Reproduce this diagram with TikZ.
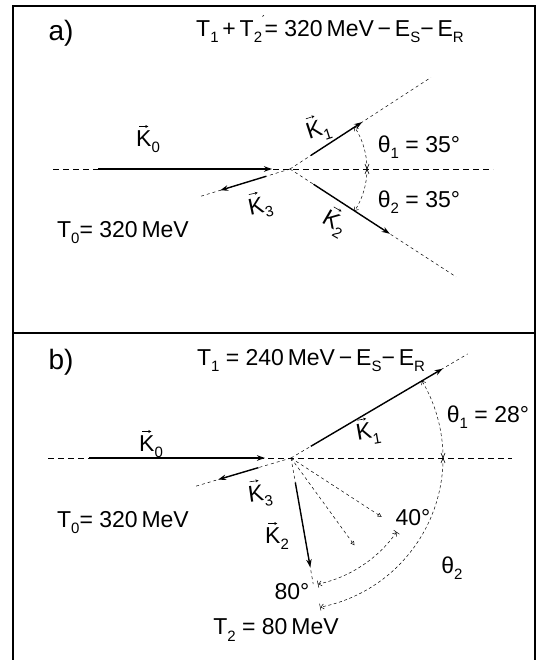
\documentclass[tikz,border=0pt]{standalone}
\usepackage{fontspec}
\setmainfont{Liberation Sans}
\newfontfamily\symf{DejaVu Sans}
\usetikzlibrary{arrows.meta,calc}
\newcommand\sbs[1]{\raisebox{-0.5ex}{\fontsize{15}{15}\selectfont #1}}
\newcommand\vK[1]{\leavevmode\vbox{\offinterlineskip\halign{\hfil##\hfil\cr\tikz[x=1pt,y=1pt,baseline=0pt]\draw[line width=0.6pt,-{Stealth[length=3pt,width=3pt]}](0,0)--(9,0);\cr\noalign{\kern3pt}K\cr}}\sbs{#1}}
\tikzset{
  frame/.style={line width=1.3pt},
  axisline/.style={dash pattern=on 6pt off 4pt, line width=0.6pt},
  ray/.style={dash pattern=on 3pt off 3pt, line width=0.5pt},
  vecarrow/.style={line width=1.4pt, -{Stealth[length=8pt,width=5.5pt]}},
  arcline/.style={dash pattern=on 3pt off 2.5pt, line width=0.5pt},
  barb/.tip={Straight Barb[length=3pt,width=5pt]},
  lab/.style={inner sep=0pt},
}
\begin{document}
\begin{tikzpicture}[x=1pt,y=1pt,font=\fontsize{23}{25}\selectfont]
\useasboundingbox (0,0) rectangle (537,660);
% frame
\coordinate (fbl) at (13,0);
\coordinate (ftl) at (13,654);
\coordinate (ftr) at (535,654);
\coordinate (fbr) at (535,0);
\coordinate (dl) at (13,327);
\coordinate (dr) at (535,327);
\draw[frame] (fbl) -- (ftl) -- (ftr) -- (fbr);
\draw[frame] (dl) -- (dr);

% ================= panel a
\coordinate (A) at (290,491);
\coordinate (aL) at (53,491);
\coordinate (aR) at (493,491);
\draw[axisline] (aL) -- (aR);
\coordinate (a0s) at (98,491);
\coordinate (a0e) at (272,491);
\draw[vecarrow] (a0s) -- (a0e);
% K1
\draw[ray] (A) -- ($(A)+(33:168)$) coordinate (a1r);
\draw[vecarrow] ($(A)+(33:25)$) coordinate (a1s) -- ($(A)+(33:86)$) coordinate (a1e);
% K2
\draw[ray] (A) -- ($(A)+(-33:198)$) coordinate (a2r);
\draw[vecarrow] ($(A)+(-33:28)$) coordinate (a2s) -- ($(A)+(-33:119)$) coordinate (a2e);
% K3
\draw[ray] (A) -- ($(A)+(197:94)$) coordinate (a3r);
\draw[vecarrow] ($(A)+(197:25)$) coordinate (a3s) -- ($(A)+(197:73)$) coordinate (a3e);
% angle arcs
\draw[arcline,-barb] ($(A)+(0:77)$) coordinate (aX) arc[start angle=0,end angle=33,radius=77];
\draw[arcline,-barb] (aX) arc[start angle=0,end angle=-33,radius=77];
\draw[line width=0.6pt] ($(aX)+(-2,5)$) -- ($(aX)+(2,-5)$);
\draw[line width=0.6pt] ($(aX)+(2,5)$) -- ($(aX)+(-2,-5)$);
% labels a
\node[lab,font=\fontsize{28}{30}\selectfont] (alab) at (61,627) {a)};
\node[lab] (asum) at (330,631) {T\sbs{1}\,+\,T\sbs{2}\raisebox{1.1ex}{\symf\fontsize{11}{11}\selectfont ′}= 320\,MeV\,−\,E\sbs{S}−\,E\sbs{R}};
\node[lab] (ak0) at (148,521) {\vK{0}};
\node[lab,rotate=18] (ak1) at (318,532) {\vK{1}};
\node[lab,rotate=-30] (ak2) at (335,438) {\vK{2}};
\node[lab,rotate=12] (ak3) at (260,455) {\vK{3}};
\node[lab] (ath1) at (419,513) {θ\sbs{1} = 35°};
\node[lab] (ath2) at (419,458) {θ\sbs{2} = 35°};
\node[lab] (at0) at (123,427) {T\sbs{0}= 320\,MeV};

% ================= panel b
\coordinate (B) at (291,202);
\coordinate (bL) at (48,202);
\coordinate (bR) at (512,202);
\draw[axisline] (bL) -- (bR);
\coordinate (b0s) at (89,202);
\coordinate (b0e) at (265,202);
\draw[vecarrow] (b0s) -- (b0e);
% K1
\draw[ray] (B) -- ($(B)+(30.5:205)$) coordinate (b1r);
\draw[vecarrow] ($(B)+(30.5:23)$) coordinate (b1s) -- ($(B)+(30.5:176)$) coordinate (b1e);
% K3
\draw[ray] (B) -- ($(B)+(196.5:102)$) coordinate (b3r);
\draw[vecarrow] ($(B)+(196.5:34)$) coordinate (b3s) -- ($(B)+(196.5:76)$) coordinate (b3e);
% K2
\draw[ray] (B) -- ($(B)+(-80:128)$) coordinate (b2r);
\draw[vecarrow] ($(B)+(-80:25)$) coordinate (b2s) -- ($(B)+(-80:111)$) coordinate (b2e);
% dashed intermediate directions
\draw[ray,-{Triangle[open,length=4pt,width=4pt]}] (B) -- ($(B)+(-33:108)$) coordinate (bd1);
\draw[ray,-{Triangle[open,length=4pt,width=4pt]}] (B) -- ($(B)+(-54:108)$) coordinate (bd2);
% arcs
\draw[arcline,-barb] ($(B)+(0:152)$) coordinate (bX) arc[start angle=0,end angle=30.5,radius=152];
\draw[arcline,-{Straight Barb[length=3pt,width=5pt] Bar[width=7pt]}] (bX) arc[start angle=0,end angle=-79,radius=152];
\draw[line width=0.6pt] ($(bX)+(-2,5)$) -- ($(bX)+(2,-5)$);
\draw[line width=0.6pt] ($(bX)+(2,5)$) -- ($(bX)+(-2,-5)$);
\draw[arcline,{Bar[width=7pt] Straight Barb[length=3pt,width=5pt]}-{Straight Barb[length=3pt,width=5pt] Bar[width=7pt]}] ($(B)+(-35:129)$) coordinate (bi1) arc[start angle=-35,end angle=-78,radius=129] coordinate (bi2);
% labels b
\node[lab,font=\fontsize{28}{30}\selectfont] (blab) at (61,298) {b)};
\node[lab] (bt1) at (311,299) {T\sbs{1} = 240\,MeV\,−\,E\sbs{S}−\,E\sbs{R}};
\node[lab] (bk0) at (151,216) {\vK{0}};
\node[lab,rotate=10] (bk1) at (368,229) {\vK{1}};
\node[lab] (bk2) at (277,124) {\vK{2}};
\node[lab,rotate=8] (bk3) at (260,167) {\vK{3}};
\node[lab] (bt0) at (123,137) {T\sbs{0}= 320\,MeV};
\node[lab] (bth1) at (488,243) {θ\sbs{1} = 28°};
\node[lab] (bth2) at (452,92) {θ\sbs{2}};
\node[lab] (b40) at (413,142) {40°};
\node[lab] (b80) at (292,68) {80°};
\node[lab] (bt2) at (276,30) {T\sbs{2} = 80\,MeV};
\end{tikzpicture}
\end{document}
